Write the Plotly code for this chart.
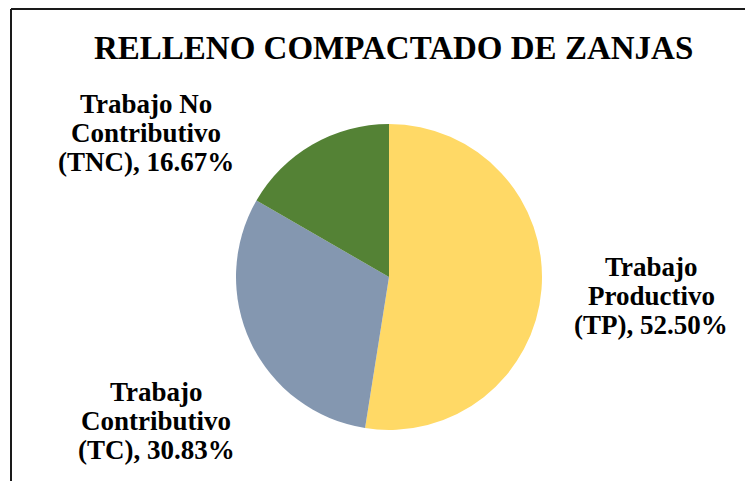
import plotly.graph_objects as go

title_text = "RELLENO COMPACTADO DE ZANJAS"
labels = ["Trabajo Productivo (TP)", "Trabajo Contributivo (TC)", "Trabajo No Contributivo (TNC)"]
values = [52.50, 30.83, 16.67]
colors = ["#FFD966", "#8497B0", "#548235"]
# label lines as displayed next to the pie
label_lines = [
    ["Trabajo", "Productivo", "(TP), {:.2f}%"],
    ["Trabajo", "Contributivo", "(TC), {:.2f}%"],
    ["Trabajo No", "Contributivo", "(TNC), {:.2f}%"],
]

OFF = 8  # browser body margin
W, H = 753 - OFF, 481 - OFF
FONT = "Liberation Serif"


def px(x):
    return (x - OFF) / W


def py(y):
    return 1 - (y - OFF) / H


# pie geometry (window pixels)
cx, cy, r = 389, 277, 153

fig = go.Figure(go.Pie(
    labels=labels,
    values=values,
    sort=False,
    direction="clockwise",
    rotation=0,
    marker=dict(colors=colors, line=dict(width=0)),
    textinfo="none",
    hoverinfo="label+percent",
    showlegend=False,
    domain=dict(x=[px(cx - r), px(cx + r)], y=[py(cy + r), py(cy - r)]),
))

# label anchor positions (window pixels): center x, first line y
label_pos = [(651, 267), (156, 392), (146, 104)]
step = 29

annotations = []
for lines, val, (lx, ly) in zip(label_lines, values, label_pos):
    for i, ln in enumerate(lines):
        annotations.append(dict(
            x=px(lx), y=py(ly + i * step), xref="paper", yref="paper",
            text="<b>" + ln.format(val) + "</b>", showarrow=False,
            xanchor="center", yanchor="middle",
            font=dict(family=FONT, size=27, color="#000000"),
        ))

annotations.append(dict(
    x=px(393), y=py(48), xref="paper", yref="paper",
    text="<b>" + title_text + "</b>", showarrow=False,
    xanchor="center", yanchor="middle",
    font=dict(family=FONT, size=33, color="#000000"),
))

shapes = [
    dict(type="line", xref="paper", yref="paper", x0=px(11), x1=1.05, y0=py(9), y1=py(9),
         line=dict(color="#1a1a1a", width=2)),
    dict(type="line", xref="paper", yref="paper", x0=px(11), x1=px(11), y0=py(9), y1=-0.05,
         line=dict(color="#1a1a1a", width=2)),
]

fig.update_layout(
    width=W, height=H,
    margin=dict(l=0, r=0, t=0, b=0),
    paper_bgcolor="white", plot_bgcolor="white",
    annotations=annotations, shapes=shapes,
)

fig.write_html("out.html")
